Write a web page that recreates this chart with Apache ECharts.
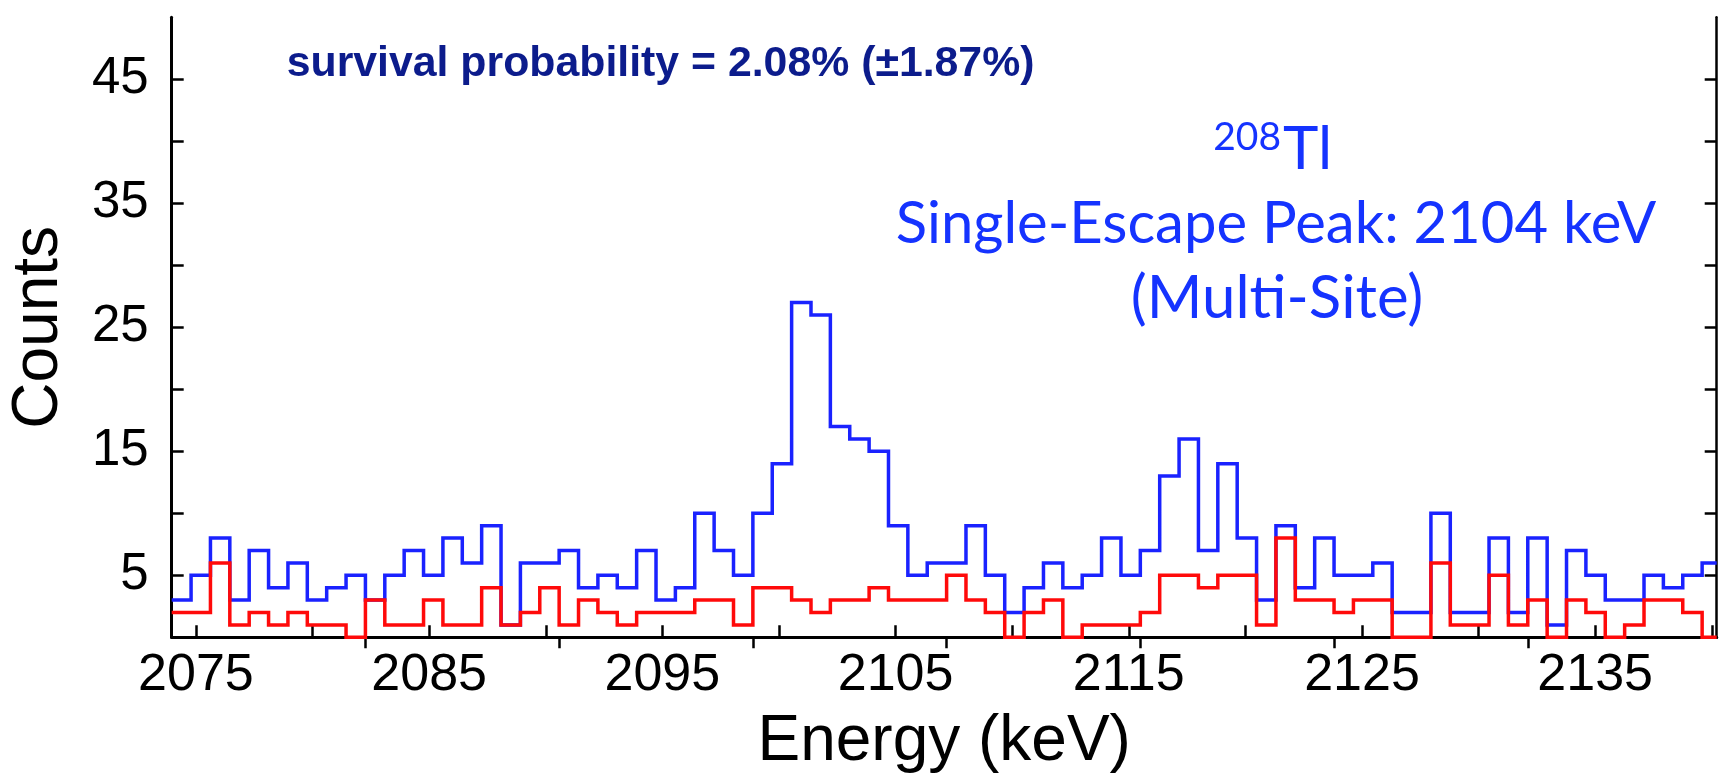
<!DOCTYPE html>
<html>
<head>
<meta charset="utf-8">
<script src="https://cdn.jsdelivr.net/npm/echarts@6/dist/echarts.min.js"></script>
<style>
html,body{margin:0;padding:0;background:#fff;}
#chart{width:1721px;height:777px;}
</style>
</head>
<body>
<div id="chart"></div>
<script>
// ---- data ----
const xMin = 2073.96;
const xMax = 2140.21;
const binStart = 2073.96;      // left edge of first bin (keV)
const binWidth = 0.8307;       // bin width (keV)

const blueCounts = [
  3, 5, 8, 3, 7, 4, 6, 3, 4, 5,
  3, 5, 7, 5, 8, 6, 9, 1, 6, 6,
  7, 4, 5, 4, 7, 3, 4, 10, 7, 5,
  10, 14, 27, 26, 17, 16, 15, 9, 5, 6,
  6, 9, 5, 2, 4, 6, 4, 5, 8, 5,
  7, 13, 16, 7, 14, 8, 3, 9, 4, 8,
  5, 5, 6, 2, 2, 10, 2, 2, 8, 2,
  8, 1, 7, 5, 3, 3, 5, 4, 5, 6
];
const redCounts = [
  2, 2, 6, 1, 2, 1, 2, 1, 1, 0,
  3, 1, 1, 3, 1, 1, 4, 1, 2, 4,
  1, 3, 2, 1, 2, 2, 2, 3, 3, 1,
  4, 4, 3, 2, 3, 3, 4, 3, 3, 3,
  5, 3, 2, 0, 2, 3, 0, 1, 1, 1,
  2, 5, 5, 4, 5, 5, 1, 8, 3, 3,
  2, 3, 3, 0, 0, 6, 1, 1, 5, 1,
  3, 0, 3, 2, 0, 1, 3, 3, 2, 0
];

const xTickValues = [2075, 2080, 2085, 2090, 2095, 2100, 2105, 2110, 2115, 2120, 2125, 2130, 2135, 2140];
const xLabelValues = [2075, 2085, 2095, 2105, 2115, 2125, 2135];
const yTickValues = [5, 10, 15, 20, 25, 30, 35, 40, 45];
const yLabelValues = [5, 15, 25, 35, 45];
const topTickBins = [10, 20, 30, 40, 50, 60, 70];

// ---- build ----
function histPoints(counts) {
  const pts = counts.map((c, i) => [binStart + i * binWidth, c]);
  pts.push([Math.min(binStart + counts.length * binWidth, xMax), counts[counts.length - 1]]);
  return pts;
}
const topTickValues = topTickBins.map(k => binStart + k * binWidth);

const FONT = '"Liberation Sans", Arial, Helvetica, sans-serif';
const GILL = 'Lato, "Open Sans", sans-serif';

const chart = echarts.init(document.getElementById('chart'), null, {renderer: 'canvas'});
chart.setOption({
  animation: false,
  backgroundColor: '#ffffff',
  grid: {left: 171.7, right: 4.3, top: 17.3, bottom: 139.7, containLabel: false, outerBoundsMode: 'none'},
  xAxis: [
    {
      type: 'value', min: xMin, max: xMax, position: 'bottom',
      axisLine: {show: true, lineStyle: {color: '#000', width: 3}},
      axisTick: {show: true, inside: true, length: 12, lineStyle: {color: '#000', width: 2.5}, customValues: xTickValues},
      axisLabel: {show: true, customValues: xLabelValues, fontSize: 52, fontFamily: FONT, color: '#000', margin: 12,
                  formatter: v => String(Math.round(v))},
      splitLine: {show: false},
      name: 'Energy (keV)', nameLocation: 'middle', nameGap: 73,
      nameTextStyle: {fontSize: 64, fontFamily: FONT, color: '#000'}
    },
    {
      type: 'value', min: xMin, max: xMax, position: 'top',
      axisLine: {show: true, lineStyle: {color: '#000', width: 2.5}},
      axisTick: {show: true, inside: true, length: 11, lineStyle: {color: '#000', width: 2.5}, customValues: topTickValues},
      axisLabel: {show: false},
      splitLine: {show: false}
    }
  ],
  yAxis: [
    {
      type: 'value', min: 0, max: 50, position: 'left',
      axisLine: {show: true, lineStyle: {color: '#000', width: 3}},
      axisTick: {show: true, inside: true, length: 12, lineStyle: {color: '#000', width: 2.5}, customValues: yTickValues},
      axisLabel: {show: true, customValues: yLabelValues, fontSize: 51, fontFamily: FONT, color: '#000', margin: 23},
      splitLine: {show: false},
      name: 'Counts', nameLocation: 'middle', nameGap: 100,
      nameTextStyle: {fontSize: 64, fontFamily: FONT, color: '#000'}
    },
    {
      type: 'value', min: 0, max: 50, position: 'right',
      axisLine: {show: true, lineStyle: {color: '#000', width: 2.5}},
      axisTick: {show: true, inside: true, length: 12, lineStyle: {color: '#000', width: 2.5}, customValues: yTickValues},
      axisLabel: {show: false},
      splitLine: {show: false}
    }
  ],
  series: [
    {
      name: 'all', type: 'line', step: 'end', xAxisIndex: 0, yAxisIndex: 0,
      data: histPoints(blueCounts), symbol: 'none', clip: false, z: 3,
      lineStyle: {color: '#1a22ff', width: 3.5, join: 'miter'}
    },
    {
      name: 'survived', type: 'line', step: 'end', xAxisIndex: 0, yAxisIndex: 0,
      data: histPoints(redCounts), symbol: 'none', clip: false, z: 4,
      lineStyle: {color: '#ff0a0a', width: 3.5, join: 'miter'}
    }
  ],
  graphic: [
    {
      type: 'text', x: 286.7, y: 64.2, z: 10,
      style: {text: 'survival probability = 2.08% (±1.87%)', fontSize: 42.8, fontWeight: 'bold', fontFamily: FONT,
              fill: '#0c1c8c', align: 'left', verticalAlign: 'middle'}
    },
    {
      type: 'text', x: 1281, y: 137, z: 10,
      style: {text: '208', fontSize: 39, fontFamily: GILL, fill: '#1533ff', align: 'right', verticalAlign: 'middle'}
    },
    {
      type: 'text', x: 1283, y: 150, z: 10,
      style: {text: 'Tl', fontSize: 60, fontFamily: GILL, fill: '#1533ff', align: 'left', verticalAlign: 'middle'}
    },
    {
      type: 'text', x: 1276, y: 224, z: 10,
      style: {text: 'Single-Escape Peak: 2104 keV', fontSize: 58, fontFamily: GILL, fill: '#1533ff', align: 'center', verticalAlign: 'middle'}
    },
    {
      type: 'text', x: 1277, y: 299, z: 10,
      style: {text: '(Multi-Site)', fontSize: 60, fontFamily: GILL, fill: '#1533ff', align: 'center', verticalAlign: 'middle'}
    }
  ]
});
</script>
</body>
</html>
